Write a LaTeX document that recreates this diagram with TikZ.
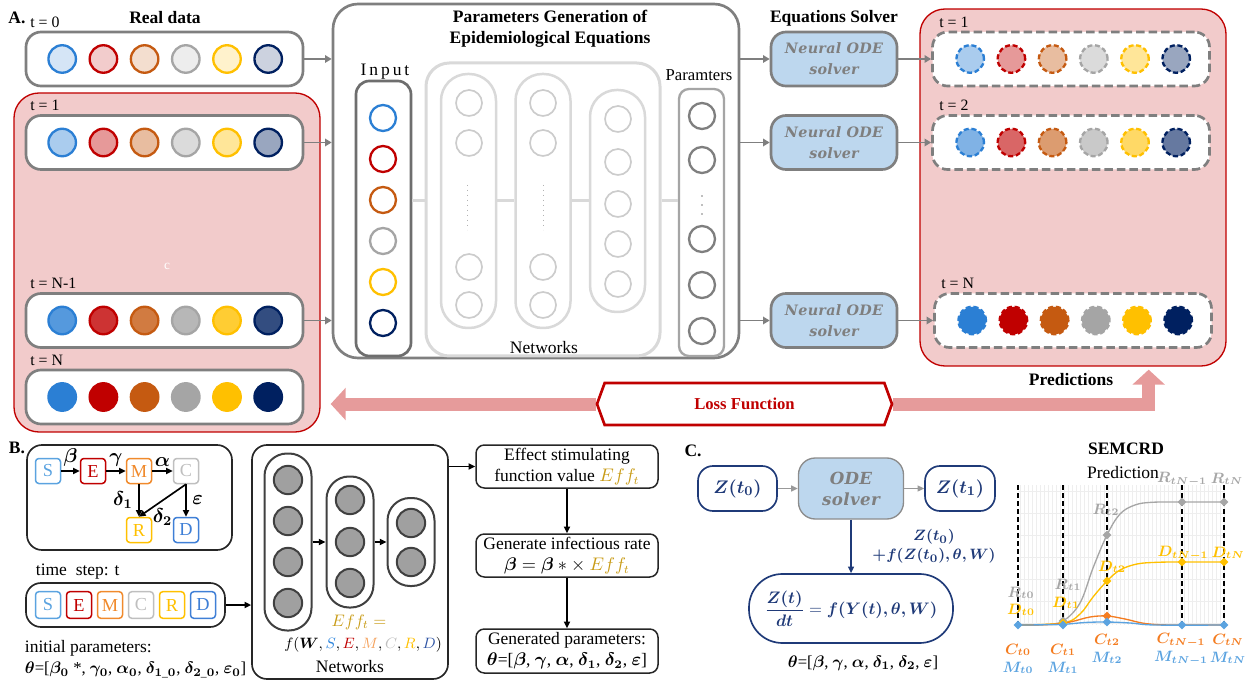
\documentclass[tikz,border=0pt]{standalone}
\usepackage{fontspec}
\setmainfont{Liberation Serif}
\newfontfamily\solverfont[LetterSpace=2]{DejaVu Serif}
\usepackage{amsmath}
\usepackage{bm}
\usetikzlibrary{arrows.meta,shapes.geometric,shapes.symbols}

\definecolor{sblue}{HTML}{2B7FD4}
\definecolor{sred}{HTML}{C00000}
\definecolor{sorange}{HTML}{C55A11}
\definecolor{sgray}{HTML}{A5A5A5}
\definecolor{sgold}{HTML}{FFC000}
\definecolor{snavy}{HTML}{002060}
\definecolor{boxgray}{HTML}{7F7F7F}
\definecolor{darkbox}{HTML}{6E6E6E}
\definecolor{pinkfill}{HTML}{F2CBCB}
\definecolor{lossred}{HTML}{E69B9B}
\definecolor{solverblue}{HTML}{BDD7EE}
\definecolor{netgray}{HTML}{D9D9D9}
\definecolor{ballgray}{HTML}{A0A0A0}
\definecolor{darkline}{HTML}{404040}
\definecolor{bS}{HTML}{5BA3E0}
\definecolor{bE}{HTML}{C00000}
\definecolor{bM}{HTML}{F08A2C}
\definecolor{bC}{HTML}{BFBFBF}
\definecolor{bR}{HTML}{FFC000}
\definecolor{bD}{HTML}{3F7FD6}
\definecolor{fS}{HTML}{2E86DE}
\definecolor{fM}{HTML}{F4A15C}
\definecolor{fD}{HTML}{2F55A4}
\definecolor{effgold}{HTML}{C89B16}
\definecolor{eqnavy}{HTML}{1F3A78}
\definecolor{plotR}{HTML}{A6A6A6}
\definecolor{plotD}{HTML}{FFC000}
\definecolor{plotC}{HTML}{F47C20}
\definecolor{plotM}{HTML}{5BA3E0}

\pgfdeclarelayer{background}
\pgfsetlayers{background,main}

\tikzset{
  headtext/.style={font=\bfseries\fontsize{10.5}{12.6}\selectfont},
  rowbox/.style={draw=boxgray, line width=1.6pt, rounded corners=9pt, fill=white,
    minimum width=166.2pt, minimum height=32.4pt, inner sep=0pt},
  predbox/.style={rowbox, dash pattern=on 5pt off 2.5pt},
  compdot/.style={circle, inner sep=0pt, minimum size=16.5pt, line width=1.4pt},
  preddot/.style={compdot, dash pattern=on 3pt off 1.6pt},
  pinkbg/.style={draw=sred, line width=0.8pt, fill=pinkfill, rounded corners=15pt, inner sep=0pt},
  garrow/.style={draw=boxgray, line width=1.1pt, -{Triangle[length=4pt,width=4.5pt]}},
  midbox/.style={draw=boxgray, line width=1.6pt, rounded corners=15pt, fill=white, inner sep=0pt},
  inbox/.style={draw=darkbox, line width=1.6pt, rounded corners=8pt, inner sep=0pt, minimum width=33pt},
  netbox/.style={draw=netgray, line width=1.8pt, rounded corners=14pt, inner sep=0pt},
  netlayer/.style={draw=netgray, line width=1.5pt, rounded corners=16pt, inner sep=0pt, minimum width=33pt},
  ndot/.style={circle, draw=netgray!85!gray, line width=1pt, minimum size=15.6pt, inner sep=0pt},
  netline/.style={draw=netgray, line width=1.8pt},
  parbox/.style={draw=sgray, line width=1.4pt, rounded corners=6pt, inner sep=0pt, minimum width=27pt},
  solver/.style={draw=boxgray, fill=solverblue, line width=1.6pt, rounded corners=9pt,
    minimum width=75.6pt, minimum height=32.4pt, inner sep=0pt, align=center, text=boxgray,
    font=\solverfont\bfseries\itshape\fontsize{8.6}{12.6}\selectfont},
  lossbox/.style={signal, signal to=west and east, signal pointer angle=140, draw=sred,
    line width=1.6pt, fill=white, minimum width=177pt, minimum height=25.2pt, inner sep=0pt,
    text=sred, font=\bfseries\fontsize{10}{12}\selectfont},
  lossarrow/.style={draw=lossred, line width=7.8pt, -{Triangle[length=9pt,width=19pt]}},
  cbox/.style={draw=#1, text=#1, line width=0.9pt, rounded corners=2pt, minimum width=15pt,
    minimum height=15pt, inner sep=0pt, font=\fontsize{11}{12}\selectfont},
  barrow/.style={draw=black, line width=1pt, -{Triangle[length=4pt,width=3.6pt]}},
  bbox/.style={draw=black!85, line width=1pt, rounded corners=9pt, inner sep=0pt},
  bpill/.style={draw=darkline, line width=1.2pt, rounded corners=13.5pt, fill=white,
    minimum width=28.2pt, inner sep=0pt},
  bdot/.style={circle, fill=ballgray, draw=darkline, line width=1.2pt, minimum size=17pt, inner sep=0pt},
  flowbox/.style={draw=black!85, line width=0.9pt, rounded corners=5pt, minimum width=109.2pt,
    minimum height=25.8pt, align=center, inner sep=0pt, font=\fontsize{10.5}{12.6}\selectfont},
  zbox/.style={draw=eqnavy, line width=1pt, rounded corners=9pt, text=eqnavy, minimum height=27pt,
    inner sep=0pt, font=\fontsize{11}{13}\selectfont},
  navyarrow/.style={draw=eqnavy, line width=0.9pt, -{Triangle[length=4pt,width=3.6pt]}},
  lgarrow/.style={draw=gray!80, line width=0.9pt, -{Triangle[length=4pt,width=3.6pt]}},
  gridline/.style={draw=gray!13, line width=0.3pt},
  tline/.style={draw=black, line width=0.8pt, dash pattern=on 3pt off 1.8pt},
  mk/.style={diamond, fill=#1, inner sep=0pt, minimum size=5.5pt},
  plab/.style={font=\fontsize{9.2}{10}\selectfont, inner sep=0pt},
  greek/.style={font=\fontsize{11.5}{12}\selectfont}
}

\begin{document}
\begin{tikzpicture}[x=0.6pt, y=-0.6pt, font=\fontsize{9.5}{11}\selectfont]
\useasboundingbox (0,0) rectangle (1248,683);

% A. real data
\node[headtext] (labA) at (17,18) {A.};
\node[headtext] (realtitle) at (165,18) {Real data};
\node[pinkbg, minimum width=183.6pt, minimum height=203.4pt] (realbg) at (167,262.5) {};
\node[text=white, font=\fontsize{8}{9}\selectfont] (cnote) at (167,266) {c};
\foreach \yy/\rowtext/\tint[count=\k] in {59/t = 0/20, 142.5/t = 1/40, 320.5/t = N-1/80, 397/t = N/100} {
  \node[rowbox] (row\k) at (164.5,\yy) {};
  \node[anchor=west, inner sep=0pt] (rowlab\k) at (30,\yy-37) {\rowtext};
  \foreach \col[count=\i] in {sblue,sred,sorange,sgray,sgold,snavy}
    \node[compdot, draw=\col, fill=\col!\tint] (row\k-\i) at (21+41.2*\i,\yy) {};
}

% parameters generation
\node[midbox, minimum width=243.6pt, minimum height=212.4pt] (mid) at (536,181) {};
\node[headtext, align=center] (midtitle) at (550,28.5) {Parameters Generation of\\Epidemiological Equations};
\foreach \k in {1,2,3}
  \draw[garrow] (row\k) -- (row\k -| mid.west);

\node[font=\fontsize{10.5}{12}\selectfont] (inlab) at (385,72) {I\,n\,p\,u\,t};
\node[inbox, minimum height=165pt] (inbox) at (383.5,218.5) {};
\foreach \col[count=\i] in {sblue,sred,sorange,sgray,sgold,snavy}
  \node[compdot, draw=\col, fill=white, minimum size=15.6pt] (in\i) at (383,77+41*\i) {};

\node[netbox, minimum width=140.4pt, minimum height=175.8pt] (netbox) at (543,209.5) {};
\node[netlayer, minimum height=152.4pt] (lay1) at (468.5,201) {};
\node[netlayer, minimum height=152.4pt] (lay2) at (543,201) {};
\node[netlayer, minimum height=133.2pt] (lay3) at (617.5,201) {};
\foreach \yy[count=\i] in {103,143,267,305} {
  \node[ndot] (n1-\i) at (469,\yy) {};
  \node[ndot] (n2-\i) at (543,\yy) {};
}
\foreach \yy[count=\i] in {119,162,204,244,284}
  \node[ndot] (n3-\i) at (618,\yy) {};
\draw[gray!60, line width=0.5pt, dash pattern=on 0.5pt off 2.5pt] (467,185) -- (467,230);
\draw[gray!60, line width=0.5pt, dash pattern=on 0.5pt off 2.5pt] (543,185) -- (543,230);
\node[font=\fontsize{10.5}{12}\selectfont] (netlab) at (544,348) {Networks};

\node[font=\fontsize{10}{12}\selectfont] (parlab) at (699,75) {Paramters};
\node[parbox, minimum height=160.2pt] (parbox) at (701.5,222.5) {};
\foreach \yy[count=\i] in {116,160,239,285,331}
  \node[compdot, draw=boxgray, fill=white, minimum size=15.6pt] (par\i) at (702,\yy) {};
\foreach \yy in {196,205,214}
  \fill[boxgray] (702,\yy) circle (0.55pt);

\draw[netline] (inbox.east |- lay1) -- (netbox.west |- lay1);
\draw[netline] (lay1) -- (lay2);
\draw[netline] (lay2) -- (lay3);
\draw[netline] (netbox.east |- lay1) -- (parbox.west |- lay1);

% equations solver
\node[headtext] (eqlab) at (834,18) {Equations Solver};
\foreach \yy[count=\k] in {59,142.5,320.5} {
  \node[solver] (sol\k) at (834,\yy) {Neural ODE\\solver};
  \draw[garrow] (mid.east |- sol\k) -- (sol\k);
}

% predictions
\node[pinkbg, minimum width=183.6pt, minimum height=214.2pt] (predbg) at (1073,187.5) {};
\foreach \yy/\rowtext/\tint/\dx[count=\k] in {59/t = 1/40/0, 142.5/t = 2/60/0, 320.5/t = N/100/2} {
  \node[predbox] (pred\k) at (1071+\dx,\yy) {};
  \node[anchor=west, inner sep=0pt] (predlab\k) at (939+\dx,\yy-37) {\rowtext};
  \foreach \col[count=\i] in {sblue,sred,sorange,sgray,sgold,snavy}
    \node[preddot, draw=\col, fill=\col!\tint] (pred\k-\i) at (929+\dx+41.2*\i,\yy) {};
  \draw[garrow] (sol\k) -- (pred\k);
}
\node[headtext] (predtitle) at (1071,380) {Predictions};

% loss
\node[lossbox] (loss) at (744.5,404) {Loss Function};
\begin{pgfonlayer}{background}
  \draw[lossarrow] (loss.west) -- ([xshift=6pt]realbg.east |- loss.west);
  \draw[lossarrow] (loss.east) -| ([xshift=-46.8pt,yshift=-1.8pt]predbg.south east);
\end{pgfonlayer}

% B. compartments
\node[headtext] (labB) at (17,448) {B.};
\node[bbox, minimum width=123pt, minimum height=63pt] (sembox) at (129.5,497.5) {};
\node[cbox=bS] (S) at (48,471) {S};
\node[cbox=bE] (E) at (93,471) {E};
\node[cbox=bM] (M) at (139,471) {M};
\node[cbox=bC] (C) at (186,471) {C};
\node[cbox=bR] (R) at (139,530) {R};
\node[cbox=bD] (D) at (186,530) {D};
\draw[barrow] (S) -- node[greek, above=-1pt] {$\bm{\beta}$} (E);
\draw[barrow] (E) -- node[greek, above=-1pt] {$\bm{\gamma}$} (M);
\draw[barrow] (M) -- node[greek, above=-1pt] {$\bm{\alpha}$} (C);
\draw[barrow] (M) -- node[greek, left=0pt] {$\bm{\delta_1}$} (R);
\draw[barrow] (C.south) -- node[greek, pos=0.5, below=1pt] {$\bm{\delta_2}$} (R.north);
\draw[barrow] (C) -- node[greek, right=0pt] {$\bm{\varepsilon}$} (D);

\node[anchor=west, font=\fontsize{10.5}{12}\selectfont] (tslab) at (30,572) {time\ \ step: t};
\node[bbox, minimum width=119.4pt, minimum height=26.4pt] (tsbox) at (125.5,605) {};
\foreach \nm/\col[count=\i] in {S/bS,E/bE,M/bM,C/bC,R/bR,D/bD}
  \node[cbox=\col, minimum height=16pt] (ts\i) at (17+31*\i,605) {\nm};
\node[anchor=west, font=\fontsize{10.5}{12}\selectfont] (initlab) at (19,648) {initial parameters:};
\node[anchor=west, font=\fontsize{10}{12}\selectfont] (initpar) at (19,670)
  {$\bm{\theta}$=[$\bm{\beta_0}$ *, $\bm{\gamma_0}$, $\bm{\alpha_0}$, $\bm{\delta_{1\_0}}$, $\bm{\delta_{2\_0}}$, $\bm{\varepsilon_0}$]};

% B. networks
\node[bbox, minimum width=117.6pt, minimum height=140.4pt] (netB) at (350,562) {};
\draw[barrow] (tsbox) -- (tsbox -| netB.west);
\node[bpill, minimum height=106.2pt] (bl1) at (288,542) {};
\node[bpill, minimum height=78.6pt] (bl2) at (350,542) {};
\node[bpill, minimum height=52.8pt] (bl3) at (411,542) {};
\foreach \yy[count=\i] in {480,521,562,603}
  \node[bdot] (b1-\i) at (288,\yy) {};
\foreach \yy[count=\i] in {500,542,583}
  \node[bdot] (b2-\i) at (350,\yy) {};
\foreach \yy[count=\i] in {523,562}
  \node[bdot] (b3-\i) at (411,\yy) {};
\draw[barrow] (bl1) -- (bl2);
\draw[barrow] (bl2) -- (bl3);
\node[text=effgold, font=\fontsize{10}{12}\selectfont] (efflab) at (359,622) {$Eff_t =$};
\node[font=\fontsize{9.5}{12}\selectfont] (efffun) at (363,645)
  {$f(\bm{W}, {\color{fS}S}, {\color{sred}E}, {\color{fM}M}, {\color{bC}C}, {\color{sgold}R}, {\color{fD}D})$};
\node[font=\fontsize{10.5}{12}\selectfont] (netBlab) at (350,667) {Networks};

\node[flowbox] (eff) at (567,466.5) {Effect stimulating\\function value {\color{effgold}$Eff_t$}};
\node[flowbox] (gen) at (567,555.5) {Generate infectious rate\\$\bm{\beta} = \bm{\beta}*\times$ {\color{effgold}$Eff_t$}};
\node[flowbox, minimum height=26.4pt] (genpar) at (567,651)
  {Generated parameters:\\$\bm{\theta}$=[$\bm{\beta}$, $\bm{\gamma}$, $\bm{\alpha}$, $\bm{\delta_1}$, $\bm{\delta_2}$, $\bm{\varepsilon}$]};
\draw[barrow] (netB.east |- eff) -- (eff);
\draw[barrow] (eff) -- (gen);
\draw[barrow] (gen) -- (genpar);

% C. ODE
\node[headtext] (labC) at (693,451) {C.};
\node[zbox, minimum width=47.4pt] (zt0) at (737.5,488.5) {$\bm{Z(t_0)}$};
\node[solver, minimum width=63pt, minimum height=36.6pt, line width=0.8pt, draw=gray!90,
  rounded corners=10pt, font=\solverfont\bfseries\itshape\fontsize{10}{12.6}\selectfont] (ode) at (851,488.5) {ODE\\solver};
\node[zbox, minimum width=42pt] (zt1) at (960,488.5) {$\bm{Z(t_1)}$};
\draw[lgarrow] (zt0) -- (ode);
\draw[lgarrow] (ode) -- (zt1);
\node[zbox, minimum width=122.4pt, minimum height=41.4pt, rounded corners=20pt,
  font=\fontsize{10}{12}\selectfont] (odeeq) at (851,608.5)
  {$\dfrac{\bm{Z(t)}}{\bm{dt}} = \bm{f(Y(t), \theta, W)}$};
\draw[navyarrow] (ode) -- (odeeq);
\node[text=eqnavy, align=center, font=\fontsize{9.5}{11.4}\selectfont] (odelab) at (934,546.5)
  {$\bm{Z(t_0)}$\\$\bm{+f(Z(t_0), \theta, W)}$};
\node[font=\fontsize{10}{12}\selectfont] (odepar) at (863,663)
  {$\bm{\theta}$=[$\bm{\beta}$, $\bm{\gamma}$, $\bm{\alpha}$, $\bm{\delta_1}$, $\bm{\delta_2}$, $\bm{\varepsilon}$]};

% SEMCRD plot
\node[headtext] (semlab) at (1126,449) {SEMCRD};
\node[font=\fontsize{10.5}{12}\selectfont] (predword) at (1123,473) {Prediction};
\foreach \gx in {1020,1024,...,1224}
  \draw[gridline] (\gx,485) -- (\gx,625);
\foreach \gy in {491,513,...,623}
  \draw[gridline] (1018,\gy) -- (1224,\gy);
\foreach \tx[count=\i] in {1018,1063,1107,1182,1224}
  \draw[tline] (\tx,485) -- (\tx,625);
\draw[plotR, line width=0.8pt] plot[smooth, tension=0.6] coordinates
  {(1018,625) (1045,624.5) (1063,621) (1080,603) (1093,568) (1107,535) (1120,514) (1135,505) (1152,502.3) (1182,502) (1224,502)};
\draw[plotD, line width=0.8pt] plot[smooth, tension=0.6] coordinates
  {(1018,625) (1063,623) (1080,614) (1093,597) (1107,581) (1120,570) (1137,564) (1157,562.3) (1182,562) (1224,562)};
\draw[plotC, line width=0.8pt] plot[smooth, tension=0.6] coordinates
  {(1018,625) (1050,624.5) (1070,622) (1090,617) (1107,616) (1125,619) (1145,623.5) (1170,625) (1224,625)};
\draw[plotM, line width=0.8pt] plot[smooth, tension=0.6] coordinates
  {(1018,625) (1060,624.5) (1085,622.5) (1107,622) (1130,623) (1155,625) (1224,625)};
\foreach \px/\py[count=\i] in {1063/621,1107/535,1182/502,1224/502}
  \node[mk=plotR] (mR\i) at (\px,\py) {};
\foreach \px/\py[count=\i] in {1063/623,1107/581,1182/562,1224/562}
  \node[mk=plotD] (mD\i) at (\px,\py) {};
\node[mk=plotC] (mC1) at (1107,616) {};
\foreach \px/\py[count=\i] in {1018/625,1063/625,1107/622,1182/625,1224/625}
  \node[mk=plotM] (mM\i) at (\px,\py) {};

\node[plab, text=plotR] (lR0) at (1021,593) {$\bm{R_{t0}}$};
\node[plab, text=plotD] (lD0) at (1021,610) {$\bm{D_{t0}}$};
\node[plab, text=plotR] (lR1) at (1068,585) {$\bm{R_{t1}}$};
\node[plab, text=plotD] (lD1) at (1066,603) {$\bm{D_{t1}}$};
\node[plab, text=plotR] (lR2) at (1106,510) {$\bm{R_{t2}}$};
\node[plab, text=plotD] (lD2) at (1112,567) {$\bm{D_{t2}}$};
\node[plab, text=plotR] (lR3) at (1182,479) {$\bm{R_{tN{-}1}}$};
\node[plab, text=plotR] (lR4) at (1227,479) {$\bm{R_{tN}}$};
\node[plab, text=plotD] (lD3) at (1183,553) {$\bm{D_{tN{-}1}}$};
\node[plab, text=plotD] (lD4) at (1228,553) {$\bm{D_{tN}}$};
\foreach \px/\py/\sub[count=\i] in {1018/650/t0,1063/650/t1,1107/640/t2,1181/640/tN{-}1,1228/640/tN} {
  \node[plab, text=plotC] (lC\i) at (\px,\py) {$\bm{C_{\sub}}$};
  \node[plab, text=plotM] (lM\i) at (\px,\py+18) {$\bm{M_{\sub}}$};
}
\end{tikzpicture}
\end{document}
